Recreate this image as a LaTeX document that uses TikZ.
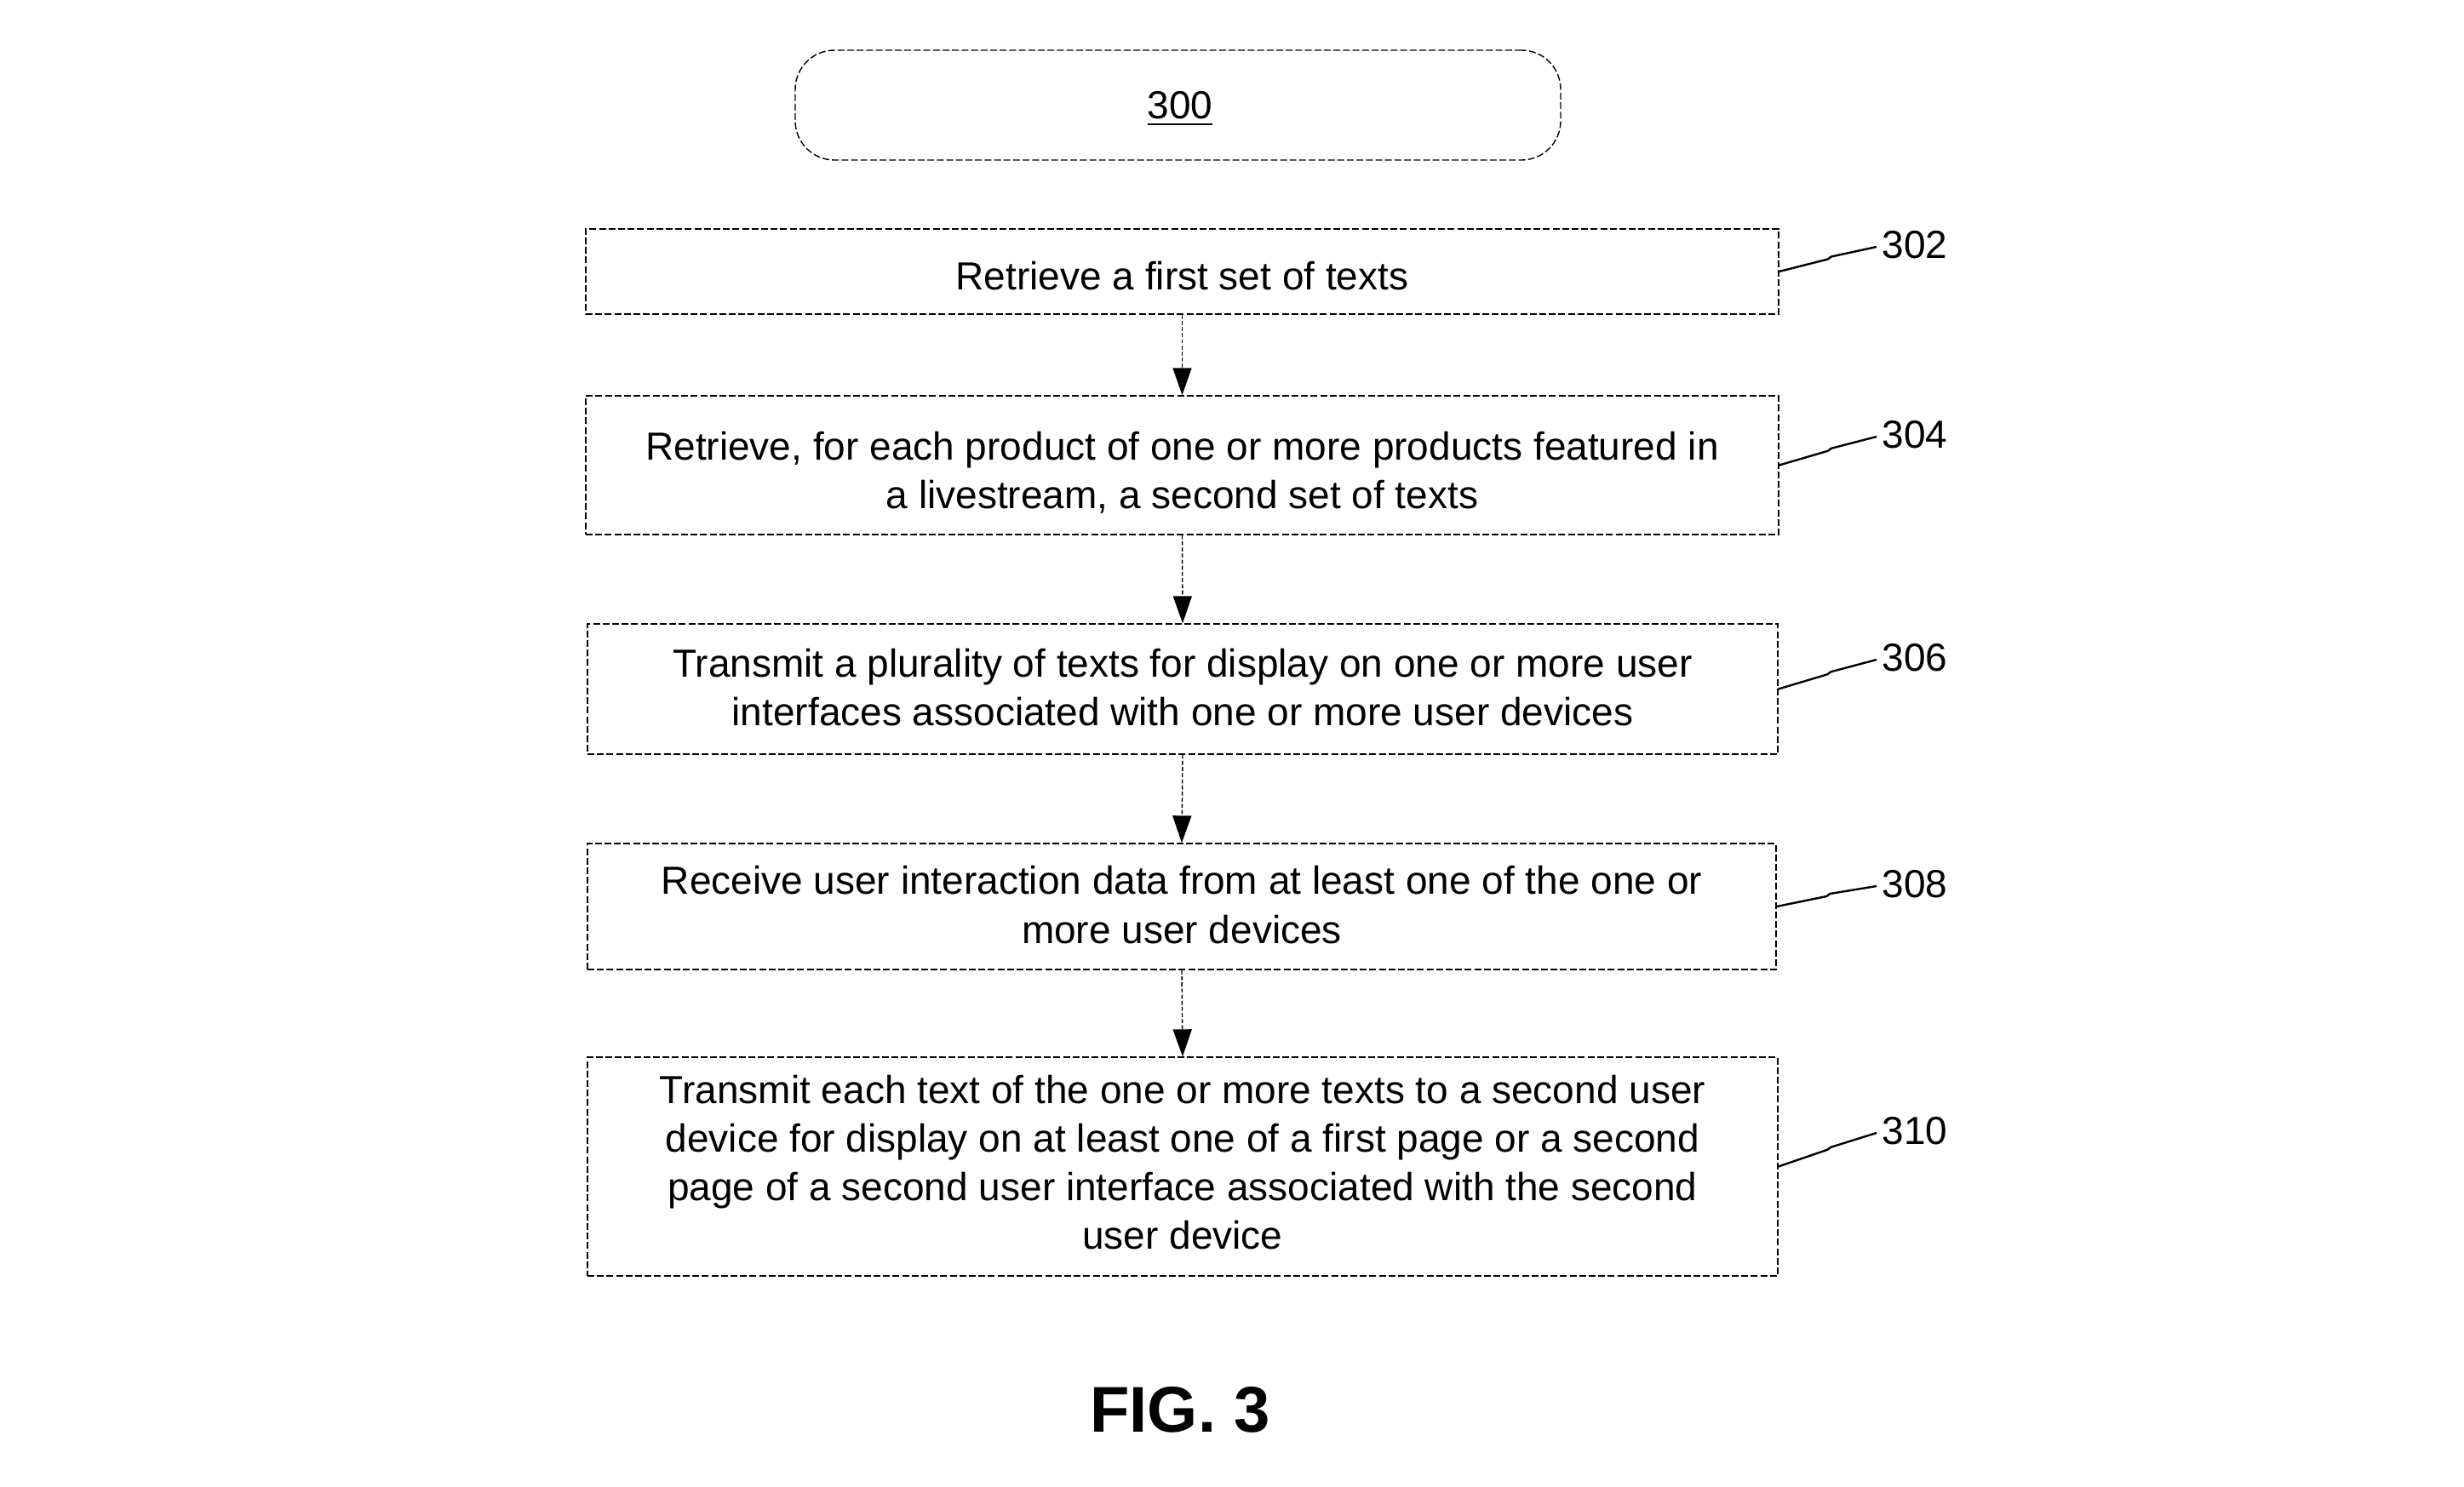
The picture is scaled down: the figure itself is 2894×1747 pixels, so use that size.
\documentclass[tikz,border=0pt]{standalone}
\usepackage{fontspec}
\setmainfont{Liberation Sans}
\usetikzlibrary{arrows.meta,calc}
\begin{document}
\begin{tikzpicture}[x=0.25pt,y=-0.25pt,
  stepbox/.style={draw=black,line width=0.35pt,dash pattern=on 2pt off 0.8pt,inner sep=0pt},
  steptext/.style={inner sep=0pt,align=center,font=\fontsize{11.5}{14.3}\selectfont},
  flow/.style={draw=black,line width=0.35pt,dash pattern=on 1.2pt off 0.6pt,-{Triangle[length=8pt,width=5.5pt]}},
  leader/.style={draw=black,line width=0.6pt},
  reflabel/.style={anchor=west,inner sep=0pt,font=\fontsize{11.5}{13}\selectfont}]
\useasboundingbox (0,0) rectangle (2894,1747);
\node[draw=black,line width=0.35pt,dash pattern=on 2pt off 0.8pt,rounded corners=11.5pt,
  minimum width=224.75pt,minimum height=32.25pt,inner sep=0pt] (top) at (1383.5,123.5) {};
\node[inner sep=0pt,font=\fontsize{11.5}{13}\selectfont] (t300) at (1386,128) {\underline{300}};
\node[stepbox,minimum width=350.25pt,minimum height=25pt] (b302) at (1388.5,319) {};
\node[steptext] (t302) at (1388.5,324) {Retrieve a first set of texts};
\node[stepbox,minimum width=350.25pt,minimum height=40.75pt] (b304) at (1388.5,546.5) {};
\node[steptext] (t304) at (1388.5,555.5)
  {Retrieve, for each product of one or more products featured in\\a livestream, a second set of texts};
\node[stepbox,minimum width=349.5pt,minimum height=38.25pt] (b306) at (1389,809.5) {};
\node[steptext] (t306) at (1389,807.5)
  {Transmit a plurality of texts for display on one or more user\\interfaces associated with one or more user devices};
\node[stepbox,minimum width=349pt,minimum height=37pt] (b308) at (1388,1065) {};
\node[steptext] (t308) at (1388,1063)
  {Receive user interaction data from at least one of the one or\\more user devices};
\node[stepbox,minimum width=349.5pt,minimum height=64.25pt] (b310) at (1389,1370.5) {};
\node[steptext] (t310) at (1389,1365.5)
  {Transmit each text of the one or more texts to a second user\\device for display on at least one of a first page or a second\\page of a second user interface associated with the second\\user device};
\draw[flow] (b302.south) -- (b304.north);
\draw[flow] (b304.south) -- (b306.north);
\draw[flow] (b306.south) -- (b308.north);
\draw[flow] (b308.south) -- (b310.north);
\foreach \n/\ly in {302/288,304/511,306/773,308/1039,310/1329}{
  \node[reflabel] (n\n) at (2210,\ly) {\n};
  \coordinate (e\n) at (2204,\ly+2);
  \draw[leader] (b\n.east) -- ($(b\n.east)!0.5!(e\n)$) to[out=20,in=200] ++(4,-3) -- (e\n);
}
\node[font=\fontsize{19}{22}\bfseries\selectfont,inner sep=0pt] (fig) at (1386,1656) {FIG. 3};
\end{tikzpicture}
\end{document}
